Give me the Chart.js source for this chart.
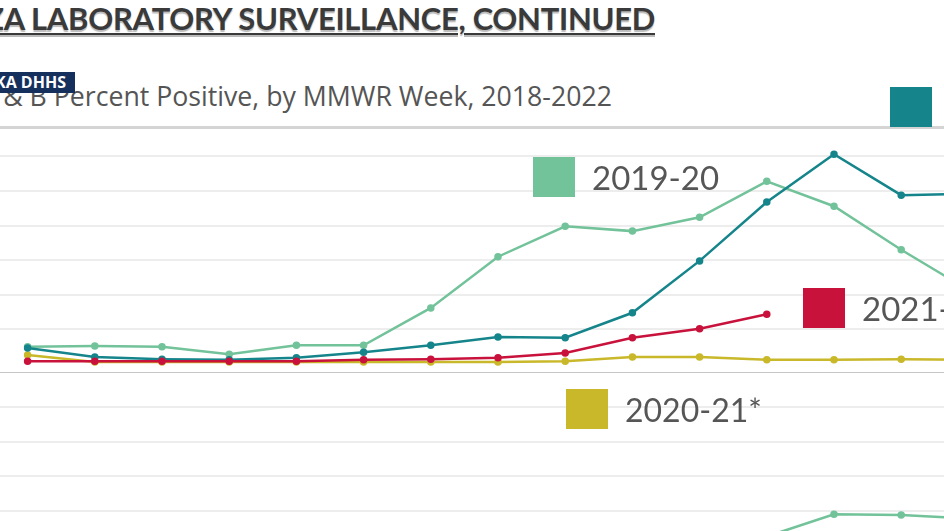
<!DOCTYPE html>
<html>
<head>
<meta charset="utf-8">
<script src="https://cdn.jsdelivr.net/npm/chart.js@4"></script>
<style>
  html, body { margin: 0; padding: 0; }
  body { width: 944px; height: 531px; overflow: hidden; position: relative; background: #fff; font-family: 'Lato', sans-serif; }
  .title { position: absolute; right: 289px; top: -1px; white-space: nowrap; font-size: 31px; font-weight: 700; color: #3a3a3a;
           text-decoration: underline; text-decoration-thickness: 2px; text-underline-offset: 3px; text-shadow: 0 2px 1px #bbb; letter-spacing: -0.3px; }
  .subtitle { position: absolute; right: 332px; top: 77px; white-space: nowrap; font-family: 'Open Sans', sans-serif; font-size: 26.7px; color: #555; }
  .badge { position: absolute; right: 869px; top: 72px; height: 21px; line-height: 21px; padding: 0 9px 0 40px; white-space: nowrap;
           background: #16305e; color: #fff; font-size: 16px; font-weight: 700; font-family: 'Open Sans', sans-serif; }
  .sep { position: absolute; left: 0; top: 126px; width: 944px; height: 3px; background: #d4d4d4; }
  .wrap { position: absolute; left: -6px; width: 1008px; }
  #upper { top: 128px; height: 245px; }
  #lower { top: 375px; height: 210px; }
  .key { position: absolute; display: flex; align-items: center; white-space: nowrap; color: #565656; font-size: 33px; }
  .key span.sw { display: inline-block; width: 42px; height: 40px; margin-right: 17px; }
</style>
</head>
<body>
<div class="title">INFLUENZA LABORATORY SURVEILLANCE, CONTINUED</div>
<div class="subtitle">Influenza A &amp; B Percent Positive, by MMWR Week, 2018-2022</div>
<div class="badge">NEBRASKA DHHS</div>
<div class="sep"></div>

<div class="wrap" id="upper"><canvas id="upperChart"></canvas></div>
<div class="wrap" id="lower"><canvas id="lowerChart"></canvas></div>

<div class="key" style="left:890px; top:87px;"><span class="sw" style="background:#15858b"></span>2018-19</div>
<div class="key" style="left:533px; top:157px;"><span class="sw" style="background:#72c29a"></span>2019-20</div>
<div class="key" style="left:803px; top:288px;"><span class="sw" style="background:#c8123c"></span>2021-22</div>
<div class="key" style="left:566px; top:389px; font-size:32px;"><span class="sw" style="background:#c9b82a"></span>2020-21*</div>

<script>
// MMWR weeks shown in the crop
const weeks = ['40', '41', '42', '43', '44', '45', '46', '47', '48', '49', '50', '51', '52', '1', '2'];

// Upper panel: percent positive
const season1819 = [2.3, 1.0, 0.7, 0.6, 0.9, 1.7, 2.7, 3.9, 3.8, 7.4, 14.9, 23.4, 30.3, 24.4, 24.6];
const season1920 = [2.5, 2.6, 2.5, 1.4, 2.7, 2.7, 8.1, 15.5, 19.9, 19.2, 21.2, 26.4, 22.8, 16.5, 10.7];
const season2021 = [1.3, 0.3, 0.3, 0.3, 0.3, 0.3, 0.3, 0.3, 0.4, 1.0, 1.0, 0.6, 0.6, 0.7, 0.6];
const season2122 = [0.4, 0.4, 0.4, 0.4, 0.4, 0.6, 0.7, 0.9, 1.6, 3.8, 5.1, 7.2, null, null, null];

// Lower panel: only the 2019-20 line reaches into view
const lower1920 = [1.5, 1.5, 1.5, 1.5, 1.5, 1.5, 1.5, 1.5, 1.8, 2.2, 4.0, 6.3, 9.5, 9.4, 8.9];

const colors = { s1819: '#15858b', s1920: '#72c29a', s2021: '#c9b82a', s2122: '#c8123c' };

function line(data, color) {
    return {
        data: data,
        borderColor: color,
        backgroundColor: color,
        borderWidth: 2.5,
        pointRadius: 2.5,
        pointHoverRadius: 2.5,
        tension: 0,
    };
}

function gridColor(c) {
    return c.tick && Math.abs(c.tick.value % 5) < 1e-6 ? '#ededed' : 'rgba(0,0,0,0)';
}

function baseOptions(min, max, showBorder) {
    return {
        responsive: true,
        maintainAspectRatio: false,
        animation: false,
        layout: { padding: 0, autoPadding: false },
        plugins: { legend: { display: false }, tooltip: { enabled: false } },
        scales: {
            x: {
                offset: true,
                grid: { display: false, drawTicks: false },
                ticks: { display: false },
                border: { display: showBorder, color: '#c6c6c6', width: 2 },
            },
            y: {
                min: min,
                max: max,
                ticks: { display: false, stepSize: 5 },
                grid: { color: gridColor, lineWidth: 2, drawTicks: false },
                border: { display: false },
            }
        }
    };
}

new Chart(document.getElementById('upperChart'), {
    type: 'line',
    data: {
        labels: weeks,
        datasets: [
            line(season2122, colors.s2122),
            line(season1819, colors.s1819),
            line(season1920, colors.s1920),
            line(season2021, colors.s2021),
        ]
    },
    options: baseOptions(-1.3, 34.1, true)
});

new Chart(document.getElementById('lowerChart'), {
    type: 'line',
    data: {
        labels: weeks,
        datasets: [line(lower1920, colors.s1920)]
    },
    options: baseOptions(-0.7, 29.6, false)
});
</script>
</body>
</html>
